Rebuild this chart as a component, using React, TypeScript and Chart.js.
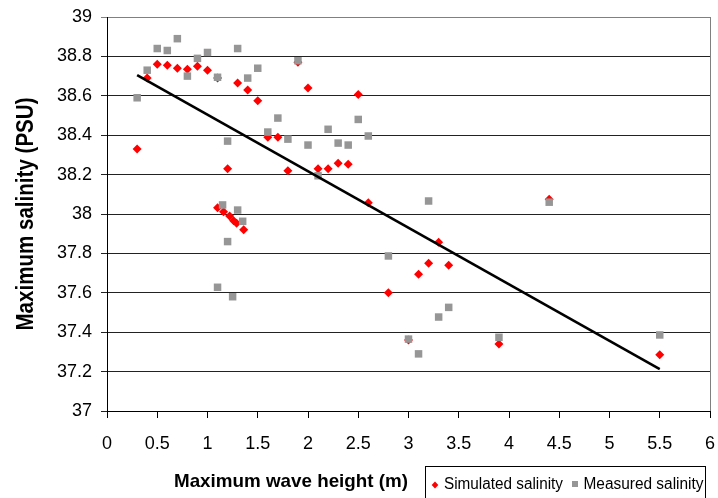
import { useEffect, useRef } from "react";
import { Chart, registerables } from "chart.js";

Chart.register(...registerables);

// Simulated salinity (red diamonds)
const simulatedX = [0.3, 0.4, 0.5, 0.6, 0.7, 0.8, 0.9, 1.0, 1.1, 1.2, 1.3, 1.4, 1.5, 1.6, 1.7, 1.8, 1.9, 2.0, 2.1, 2.2, 2.3, 2.4, 2.5, 2.6, 2.8, 3.0, 3.1, 3.2, 3.3, 3.4, 3.9, 4.4, 5.5, 1.1, 1.16, 1.22, 1.26, 1.29, 1.36];
const simulatedY = [38.33, 38.69, 38.76, 38.755, 38.74, 38.735, 38.75, 38.73, 38.69, 38.23, 38.665, 38.63, 38.575, 38.39, 38.39, 38.22, 38.77, 38.64, 38.23, 38.23, 38.257, 38.252, 38.606, 38.057, 37.6, 37.36, 37.694, 37.75, 37.856, 37.74, 37.34, 38.075, 37.286, 38.032, 38.012, 37.99, 37.966, 37.953, 37.92];

// Measured salinity (grey squares)
const measuredX = [0.3, 0.4, 0.5, 0.6, 0.7, 0.8, 0.9, 1.0, 1.1, 1.2, 1.3, 1.4, 1.5, 1.6, 1.7, 1.8, 1.9, 2.0, 2.1, 2.2, 2.3, 2.4, 2.5, 2.6, 2.8, 3.0, 3.1, 3.2, 3.3, 3.4, 3.9, 4.4, 5.5, 1.15, 1.3, 1.35, 1.2, 1.1, 1.25];
const measuredY = [38.59, 38.73, 38.84, 38.83, 38.89, 38.7, 38.79, 38.82, 38.694, 38.37, 38.84, 38.69, 38.74, 38.416, 38.487, 38.38, 38.778, 38.35, 38.194, 38.43, 38.36, 38.35, 38.48, 38.396, 37.787, 37.365, 37.29, 38.066, 37.477, 37.526, 37.374, 38.06, 37.386, 38.046, 38.02, 37.963, 37.86, 37.628, 37.58];

// Trend line
const trendX = [0.3, 5.5];
const trendY = [38.705, 37.213];

const xTitle = "Maximum wave height (m)";
const yTitle = "Maximum salinity (PSU)";
const legendLabels = ["Simulated salinity", "Measured salinity"];

const FONT = "'Liberation Sans', Arial, sans-serif";

function fitText(ctx: CanvasRenderingContext2D, text: string, x: number, y: number, width: number) {
  const w = ctx.measureText(text).width;
  ctx.save();
  ctx.translate(x, y);
  ctx.scale(width / w, 1);
  ctx.fillText(text, 0, 0);
  ctx.restore();
}

const decor = {
  id: "decor",
  afterDraw(chart: any) {
    const { ctx, chartArea } = chart;
    ctx.save();
    // right border of plot area
    ctx.strokeStyle = "#808080";
    ctx.lineWidth = 1;
    ctx.beginPath();
    ctx.moveTo(Math.round(chartArea.right) + 0.5, chartArea.top);
    ctx.lineTo(Math.round(chartArea.right) + 0.5, chartArea.bottom);
    ctx.stroke();

    ctx.fillStyle = "#000";
    ctx.textAlign = "left";
    ctx.textBaseline = "alphabetic";

    // x title
    ctx.font = `bold 19px ${FONT}`;
    fitText(ctx, xTitle, 174, 487, 234);

    // y title (rotated)
    ctx.save();
    ctx.translate(33, 214);
    ctx.rotate(-Math.PI / 2);
    ctx.font = `bold 24px ${FONT}`;
    const w = ctx.measureText(yTitle).width;
    ctx.scale(233 / w, 1);
    ctx.textAlign = "center";
    ctx.fillText(yTitle, 0, 0);
    ctx.restore();

    // legend box
    ctx.strokeStyle = "#000";
    ctx.lineWidth = 1;
    ctx.strokeRect(425.5, 466.5, 280, 60);

    // legend markers
    ctx.fillStyle = "#FF0000";
    ctx.beginPath();
    ctx.moveTo(435, 481.5);
    ctx.lineTo(438.3, 485);
    ctx.lineTo(435, 488.5);
    ctx.lineTo(431.7, 485);
    ctx.closePath();
    ctx.fill();

    ctx.fillStyle = "#969696";
    ctx.fillRect(572, 481, 6, 6);

    ctx.fillStyle = "#000";
    ctx.font = `16px ${FONT}`;
    fitText(ctx, legendLabels[0], 444, 489, 119);
    fitText(ctx, legendLabels[1], 583.5, 489, 120);
    ctx.restore();
  },
};

export default function App() {
  const ref = useRef<HTMLCanvasElement>(null);

  useEffect(() => {
    const canvas = ref.current;
    if (!canvas) return;
    const chart = new Chart(canvas, {
      type: "scatter",
      data: {
        datasets: [
          {
            type: "line",
            label: "Trend",
            data: trendX.map((x, i) => ({ x, y: trendY[i] })),
            borderColor: "#000",
            borderWidth: 2.6,
            pointRadius: 0,
            showLine: true,
            fill: false,
            order: 0,
          } as any,
          {
            label: legendLabels[1],
            data: measuredX.map((x, i) => ({ x, y: measuredY[i] })),
            pointStyle: "rect",
            pointRadius: 5.3,
            backgroundColor: "#969696",
            borderWidth: 0,
            order: 1,
          },
          {
            label: legendLabels[0],
            data: simulatedX.map((x, i) => ({ x, y: simulatedY[i] })),
            pointStyle: "rectRot",
            pointRadius: 4.5,
            backgroundColor: "#FF0000",
            borderWidth: 0,
            order: 2,
          },
        ],
      },
      options: {
        animation: false,
        responsive: false,
        layout: { padding: { top: 17, right: 8, left: 0, bottom: 0 } },
        plugins: {
          legend: { display: false },
          tooltip: { enabled: false },
        },
        scales: {
          x: {
            type: "linear",
            min: 0,
            max: 6,
            afterFit: (s: any) => {
              s.height = 87;
              s.paddingLeft = 0;
              s.paddingRight = 0;
            },
            ticks: {
              stepSize: 0.5,
              color: "#000",
              font: { family: FONT, size: 18 },
              padding: 15,
              maxRotation: 0,
              autoSkip: false,
              callback: (v: any) => String(Number(Number(v).toFixed(1))),
            },
            grid: {
              drawOnChartArea: false,
              drawTicks: true,
              tickLength: 7,
              color: "#000",
            },
            border: { display: true, color: "#000", width: 1 },
          },
          y: {
            type: "linear",
            min: 37,
            max: 39,
            afterFit: (s: any) => {
              s.width = 107;
              s.paddingTop = 0;
              s.paddingBottom = 0;
            },
            ticks: {
              stepSize: 0.2,
              color: "#000",
              font: { family: FONT, size: 18 },
              padding: 9,
              autoSkip: false,
              callback: (v: any) => String(Number(Number(v).toFixed(1))),
            },
            grid: {
              drawOnChartArea: true,
              drawTicks: true,
              tickLength: 6,
              color: (c: any) => (c.tick && Math.abs(c.tick.value - 39) < 1e-6 ? "#808080" : "#222"),
            },
            border: { display: true, color: "#000", width: 1 },
          },
        },
      },
      plugins: [decor],
    });
    return () => chart.destroy();
  }, []);

  return (
    <div style={{ position: "absolute", left: 0, top: 0, width: 718, height: 498, background: "#fff" }}>
      <canvas ref={ref} width={718} height={498} style={{ display: "block" }} />
    </div>
  );
}
